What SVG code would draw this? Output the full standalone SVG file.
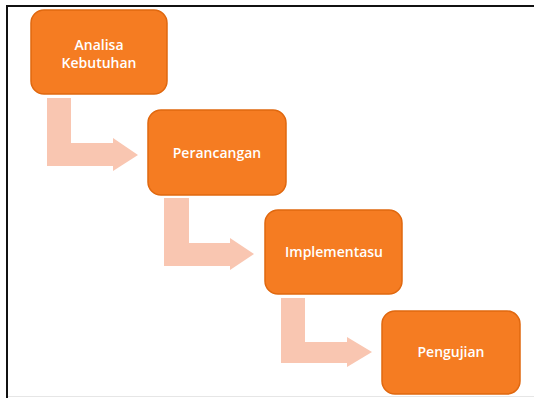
<svg xmlns="http://www.w3.org/2000/svg" width="534" height="398" viewBox="0 0 534 398">
<style>
.box{fill:#F57C22;stroke:#E0680F;stroke-width:1.5}
.arr{fill:#F9C6B1}
.t{font-family:"Open Sans","Liberation Sans",sans-serif;font-size:14px;font-weight:600;fill:#FFFFFF;text-anchor:middle}
</style>
<rect x="0" y="0" width="534" height="398" fill="#FFFFFF"/>
<line x1="6" y1="6" x2="534" y2="6" stroke="#111" stroke-width="2"/>
<line x1="7" y1="5" x2="7" y2="398" stroke="#111" stroke-width="2"/>
<line x1="8" y1="396.5" x2="534" y2="396.5" stroke="#E6E6E6" stroke-width="1"/>
<g id="connectors">
<path class="arr" d="M47 98 H71 V143 H113 V138 L138 155 L113 171 V166 H47 Z"/>
<path class="arr" d="M164 198 H189 V243 H230 V238 L254 254 L230 270 V266 H164 Z"/>
<path class="arr" d="M281 298 H305 V342 H347 V337 L372 352 L347 367 V363 H281 Z"/>
</g>
<g id="n1">
<rect class="box" x="31" y="10" width="136" height="84" rx="13"/>
<text class="t" x="99" y="50">Analisa</text>
<text class="t" x="99" y="68">Kebutuhan</text>
</g>
<g id="n2">
<rect class="box" x="148" y="110" width="138" height="85" rx="13"/>
<text class="t" x="217" y="158">Perancangan</text>
</g>
<g id="n3">
<rect class="box" x="265" y="210" width="137" height="84" rx="13"/>
<text class="t" x="334" y="257">Implementasu</text>
</g>
<g id="n4">
<rect class="box" x="382" y="311" width="138" height="83" rx="13"/>
<text class="t" x="451" y="357">Pengujian</text>
</g>
</svg>
